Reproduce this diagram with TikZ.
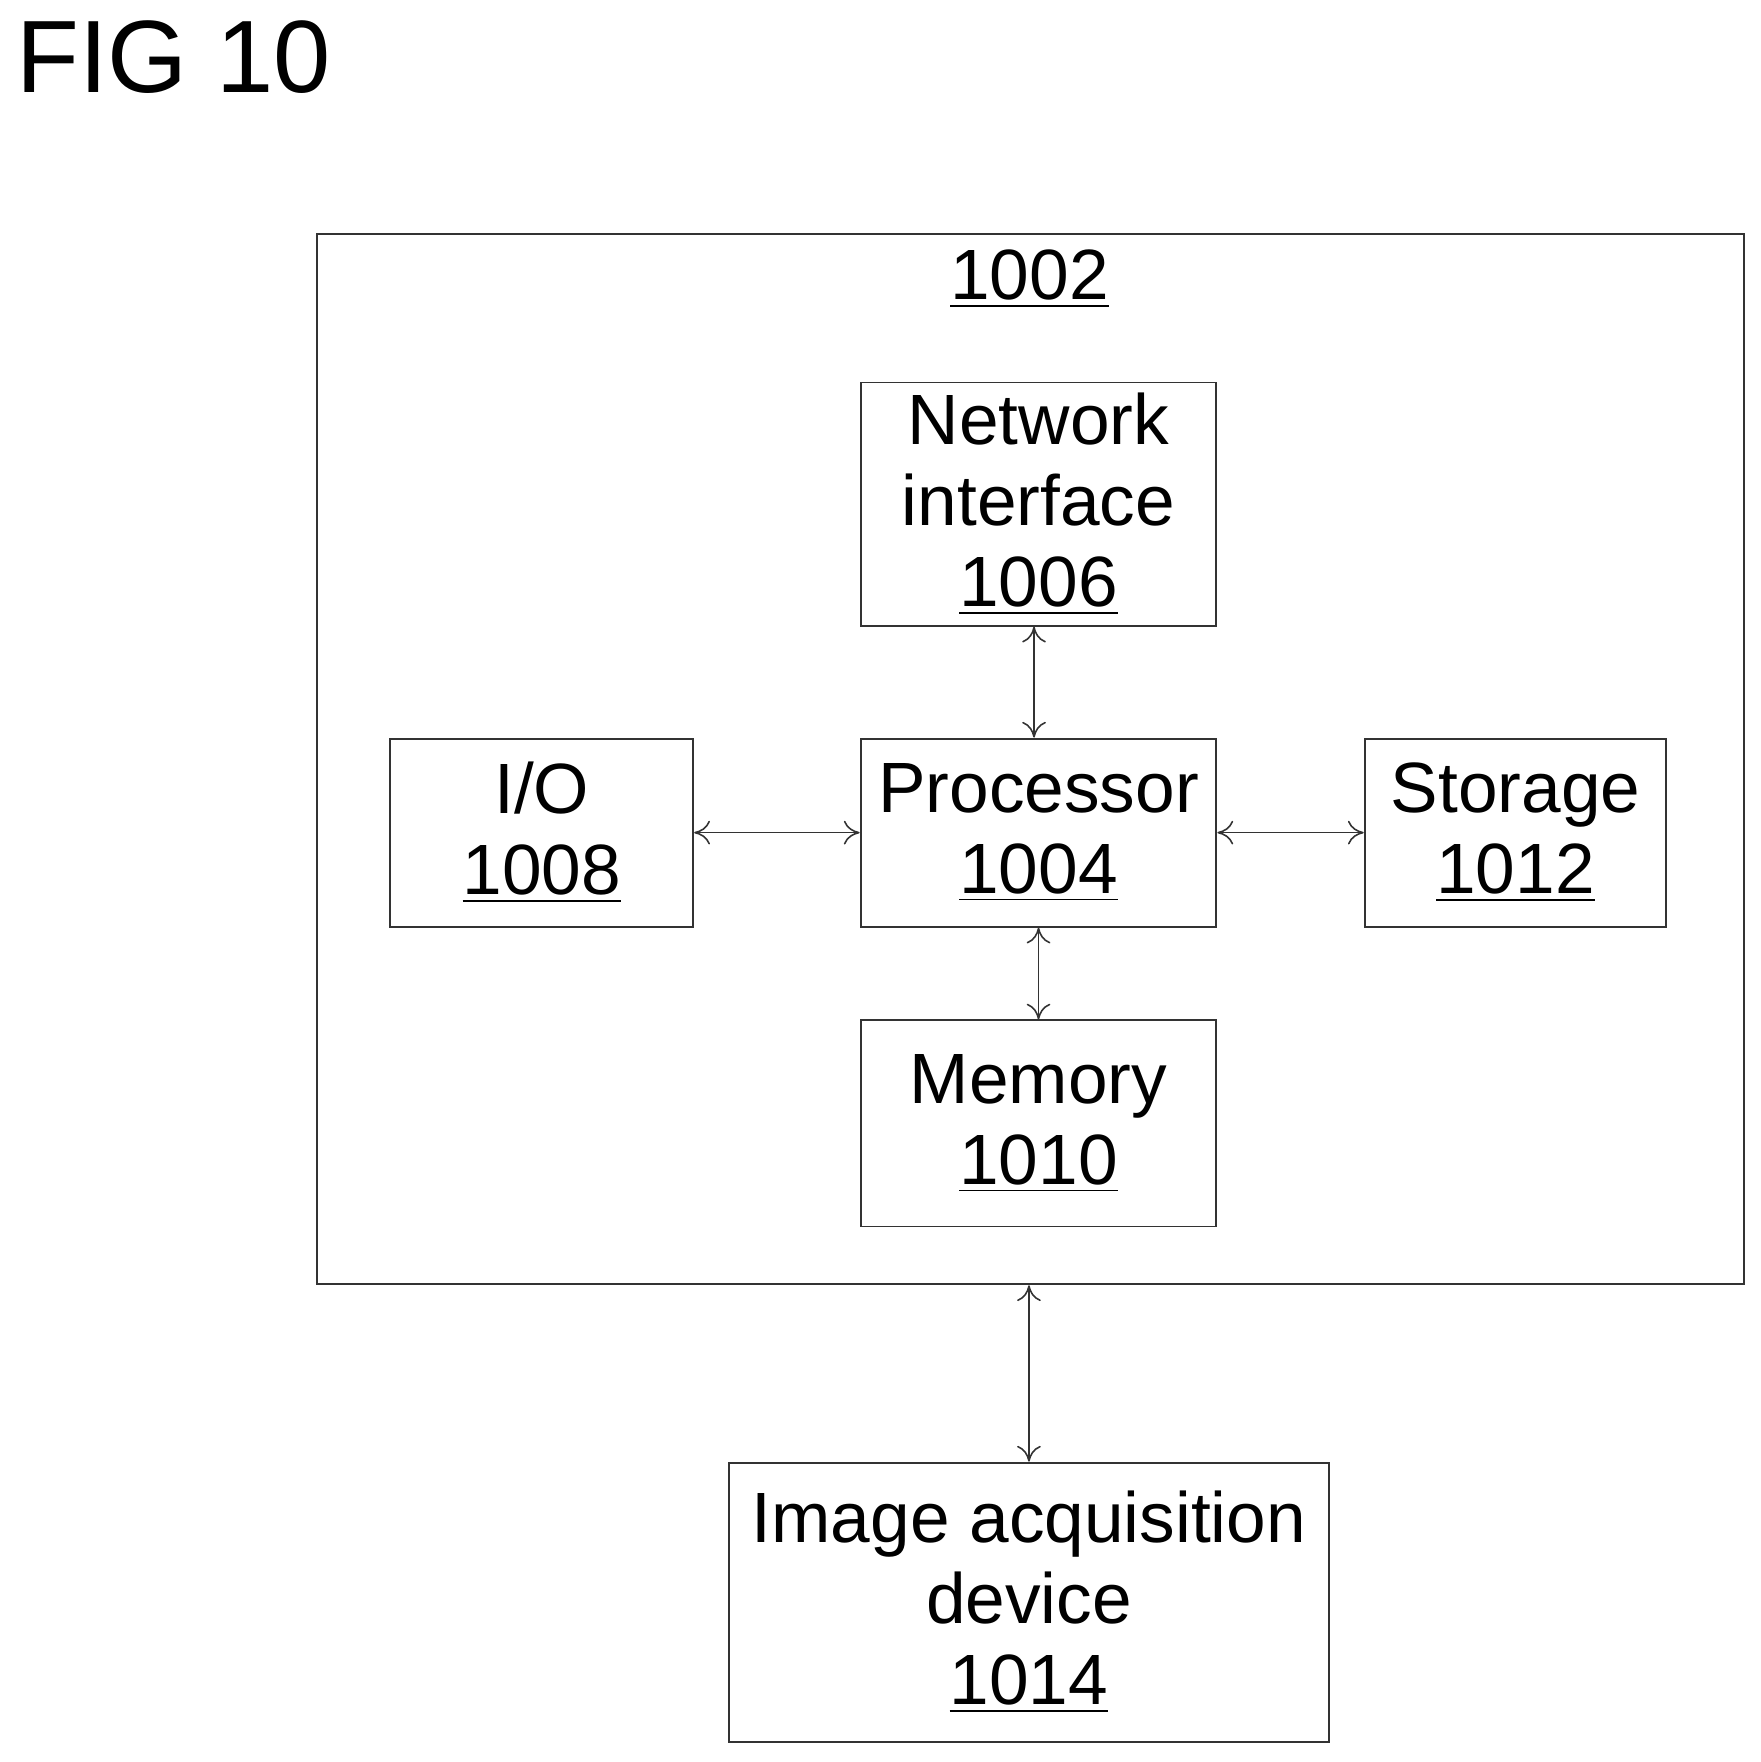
\documentclass[tikz,border=0pt]{standalone}
\usepackage{fontspec}
\setmainfont{Liberation Sans}
\usetikzlibrary{positioning,arrows.meta}
\tikzset{
  blk/.style={draw=black!80, line width=0.5pt, inner sep=0pt, align=center, font=\fontsize{18}{20.5}\selectfont},
  link/.style={draw=black!80, line width=0.4pt, {To[length=4pt,width=6pt]}-{To[length=4pt,width=6pt]}}
}
\newcommand{\ul}[1]{\underline{#1}}
\begin{document}
\begin{tikzpicture}[x=0.01cm,y=-0.01cm]
\useasboundingbox (0,0) rectangle (1565,1566);
% title
\node[anchor=north west, inner sep=0pt, font=\fontsize{26}{28}\selectfont] (fig) at (14,18) {FIG 10};
% outer box
\node[blk, minimum width=12.67cm, minimum height=9.33cm, anchor=north west] (comp) at (281,207) {};
\node[font=\fontsize{18}{20}\selectfont] (lbl) at (915,248) {\ul{1002}};
% blocks
\node[blk, minimum width=3.16cm, minimum height=2.16cm] (net) at (923,448) {Network\\interface\\\ul{1006}};
\node[blk, minimum width=3.16cm, minimum height=1.67cm] (proc) at (923,740) {Processor\\\ul{1004}};
\node[blk, minimum width=2.69cm, minimum height=1.67cm] (io) at (481.5,740) {I/O\\\ul{1008}};
\node[blk, minimum width=2.68cm, minimum height=1.67cm] (stor) at (1347,740) {Storage\\\ul{1012}};
\node[blk, minimum width=3.16cm, minimum height=1.83cm] (mem) at (923,998.5) {Memory\\\ul{1010}};
\node[blk, minimum width=5.33cm, minimum height=2.48cm] (cam) at (914.5,1424) {Image acquisition\\device\\\ul{1014}};
% connectors
\draw[link] (net.south -| 919,0) -- (proc.north -| 919,0);
\draw[link] (proc.south) -- (mem.north);
\draw[link] (io.east) -- (proc.west);
\draw[link] (proc.east) -- (stor.west);
\draw[link] (comp.south -| cam.north) -- (cam.north);
\end{tikzpicture}
\end{document}
